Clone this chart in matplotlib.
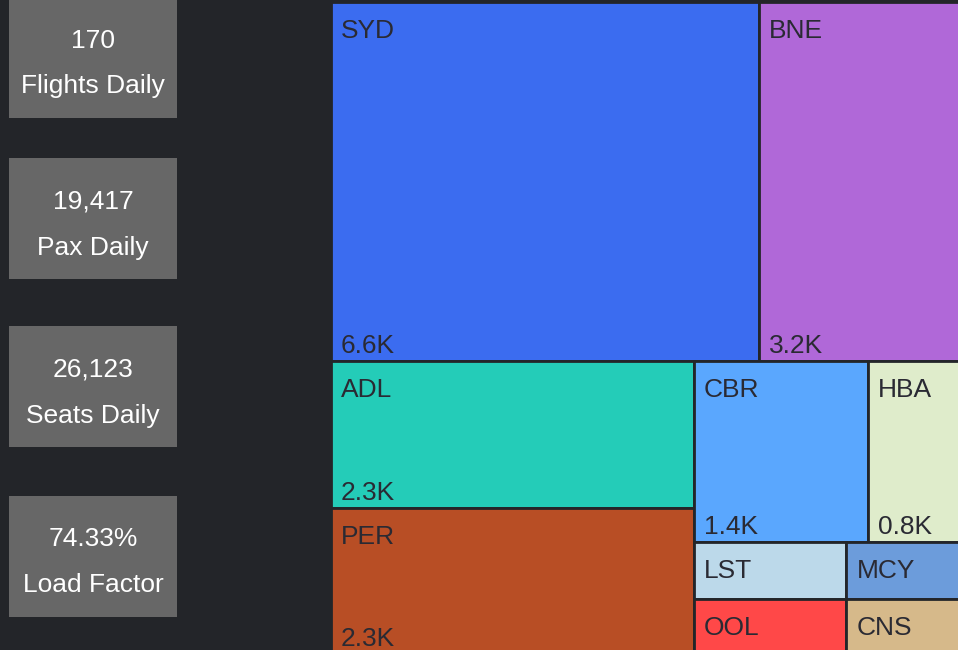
import matplotlib
matplotlib.use("Agg")
import matplotlib.pyplot as plt
from matplotlib.patches import Rectangle

# ---- data ----
airports = ["SYD", "BNE", "ADL", "PER", "CBR", "HBA", "LST", "OOL", "MCY", "CNS"]
pax = [6600, 3200, 2300, 2280, 1360, 770, 370, 365, 290, 285]
tile_colors = ["#3b6cf0", "#b068d8", "#24ccb8", "#b84e25", "#5aa7fe",
               "#dfeccb", "#bcd9ea", "#ff4848", "#6c9cdb", "#d6b98a"]

kpi_values = ["170", "19,417", "26,123", "74.33%"]
kpi_labels = ["Flights Daily", "Pax Daily", "Seats Daily", "Load Factor"]

BG = "#232529"
TXT = "#2a2a33"
FONT = "Liberation Sans"


def squarify(values, x0, y0, x1, y1, ratio=(1 + 5 ** 0.5) / 2):
    """d3-style squarified treemap layout; returns list of (x0, y0, x1, y1)."""
    out = [None] * len(values)
    n = len(values)
    i0 = i1 = 0
    value = float(sum(values))
    while i0 < n:
        dx, dy = x1 - x0, y1 - y0
        sum_v = values[i1]
        i1 += 1
        min_v = max_v = sum_v
        alpha = max(dy / dx, dx / dy) / (value * ratio)
        beta = sum_v * sum_v * alpha
        min_ratio = max(max_v / beta, beta / min_v)
        while i1 < n:
            v = values[i1]
            s = sum_v + v
            mn, mx = min(min_v, v), max(max_v, v)
            beta = s * s * alpha
            new_ratio = max(mx / beta, beta / mn)
            if new_ratio > min_ratio:
                break
            sum_v, min_v, max_v, min_ratio = s, mn, mx, new_ratio
            i1 += 1
        idx = list(range(i0, i1))
        if dx < dy:  # dice: horizontal row across the top
            h = dy * sum_v / value
            xx = x0
            for k in idx:
                w = dx * values[k] / sum_v
                out[k] = (xx, y0, xx + w, y0 + h)
                xx += w
            y0 += h
        else:  # slice: vertical column on the left
            w = dx * sum_v / value
            yy = y0
            for k in idx:
                h = dy * values[k] / sum_v
                out[k] = (x0, yy, x0 + w, yy + h)
                yy += h
            x0 += w
        value -= sum_v
        i0 = i1
    return out


fig = plt.figure(figsize=(9.58, 6.5), dpi=100, facecolor=BG)
ax = fig.add_axes([0, 0, 1, 1])
ax.set_xlim(0, 958)
ax.set_ylim(650, 0)
ax.axis("off")
ax.set_facecolor(BG)

# ---- KPI boxes ----
box_tops = [-3, 158, 326, 496]
box_h = 121
for top, val, lab in zip(box_tops, kpi_values, kpi_labels):
    ax.add_patch(Rectangle((9, top), 168, box_h, facecolor="#676767", edgecolor="none"))
    c = top + box_h / 2
    ax.text(93, c - 10, val, color="white", fontsize=19, family=FONT,
            ha="center", va="baseline")
    ax.text(93, c + 36, lab, color="white", fontsize=19, family=FONT,
            ha="center", va="baseline")

# ---- treemap ----
rects = squarify(pax, 331, 2, 966, 654)
for name, v, col, (rx0, ry0, rx1, ry1) in zip(airports, pax, tile_colors, rects):
    ax.add_patch(Rectangle((rx0, ry0), rx1 - rx0, ry1 - ry0, facecolor=col,
                           edgecolor=BG, linewidth=2.0))
    ax.text(rx0 + 10, ry0 + 36, name, color=TXT, fontsize=19, family=FONT,
            ha="left", va="baseline", clip_on=True)
    if (ry1 - ry0) > 100:
        ax.text(rx0 + 10, ry1 - 8, f"{v / 1000:.1f}K", color=TXT, fontsize=19,
                family=FONT, ha="left", va="baseline", clip_on=True)

fig.savefig("out.png", dpi=100, facecolor=BG)
